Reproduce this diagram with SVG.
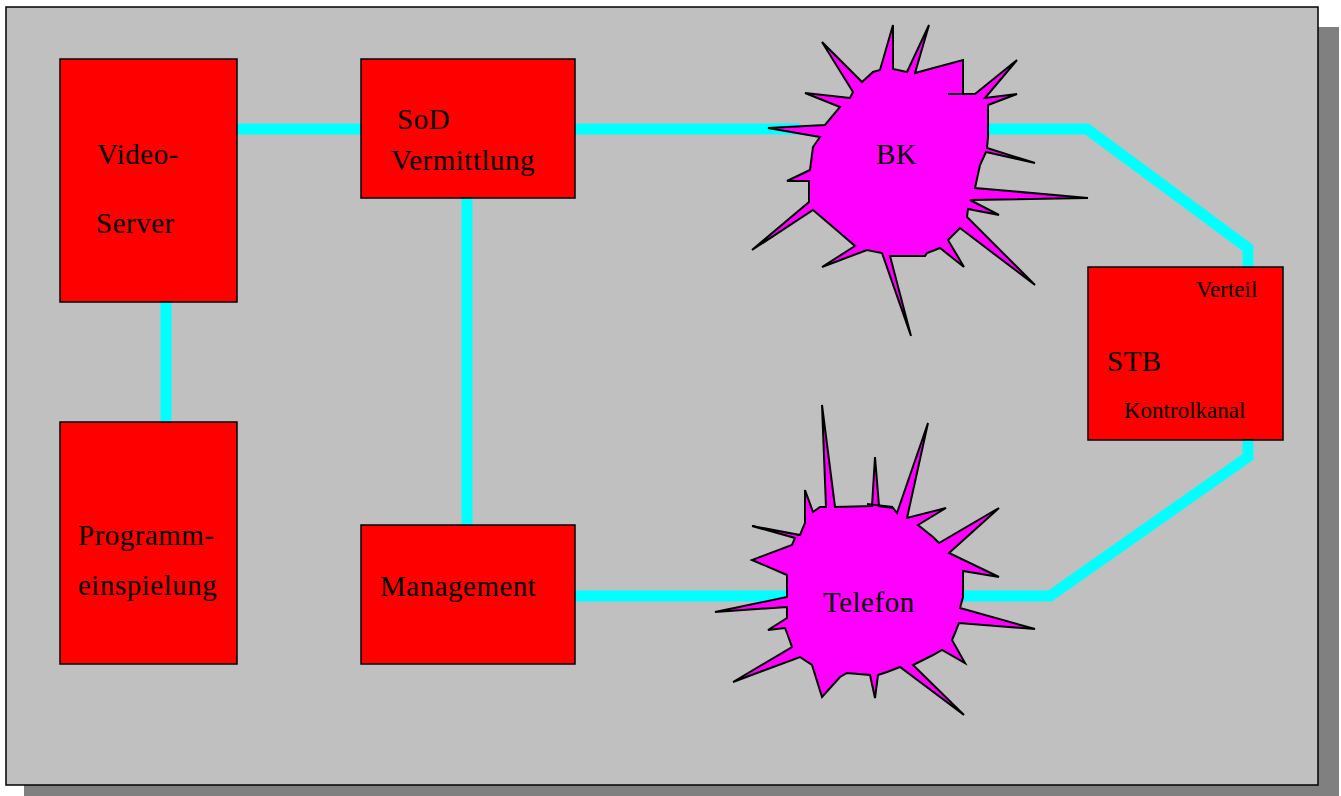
<svg xmlns="http://www.w3.org/2000/svg" width="1341" height="796" viewBox="0 0 1341 796">
<style>
.box{fill:#ff0000;stroke:#000;stroke-width:1.5}
.burst{fill:#ff00ff;stroke:#000;stroke-width:2;stroke-linejoin:miter}
.link{fill:none;stroke:#00ffff;stroke-width:11;stroke-linejoin:miter}
text{font-family:"Liberation Serif","Times New Roman",serif;fill:#000}
.big{font-size:29px;letter-spacing:0.5px}
.small{font-size:23px}
</style>
<rect x="24" y="27" width="1315" height="769" fill="#808080"/>
<rect x="6" y="7" width="1312" height="778" fill="#c0c0c0" stroke="#000" stroke-width="1.5"/>
<g id="connectors">
<line class="link" x1="237" y1="129" x2="361" y2="129"/>
<line class="link" x1="166" y1="302" x2="166" y2="422"/>
<line class="link" x1="467" y1="198" x2="467" y2="525"/>
<line class="link" x1="575" y1="129" x2="800" y2="129"/>
<polyline class="link" points="970,129 1087,129 1248,248 1248,267"/>
<polyline class="link" points="1248,440 1248,457 1050,596 950,596"/>
<line class="link" x1="575" y1="596" x2="800" y2="596"/>
</g>
<g id="video-server">
<rect class="box" x="60" y="59" width="177" height="243"/>
<text class="big" x="97" y="164">Video-</text>
<text class="big" x="96" y="233">Server</text>
</g>
<g id="sod">
<rect class="box" x="361" y="59" width="214" height="139"/>
<text class="big" x="397" y="129">SoD</text>
<text class="big" x="391" y="170">Vermittlung</text>
</g>
<g id="programm">
<rect class="box" x="60" y="422" width="177" height="242"/>
<text class="big" x="78" y="545">Programm-</text>
<text class="big" x="78" y="595">einspielung</text>
</g>
<g id="management">
<rect class="box" x="361" y="525" width="214" height="139"/>
<text class="big" x="380" y="596">Management</text>
</g>
<g id="stb">
<rect class="box" x="1088" y="267" width="195" height="173"/>
<text class="small" x="1196" y="297">Verteil</text>
<text class="big" x="1107" y="371">STB</text>
<text class="small" x="1124" y="418">Kontrolkanal</text>
</g>
<g id="bk">
<polygon class="burst" points="880,70 893,25 893,69 907,72 929,25 915,73 963,60 963,94 975,94 1017,60 985,98 1017,94 988,105 988,137 987,148 1035,163 986,152 980,165 975,188 1088,198 970,200 999,215 968,209 967,217 1035,285 960,228 948,240 964,267 940,248 927,253 925,256 890,256 911,336 882,253 867,250 822,267 855,246 833,227 813,210 752,250 809,202 809,181 787,181 810,170 813,147 820,137 768,128 825,125 840,107 805,93 850,98 853,92 822,42 862,82 873,72"/>
<line x1="948" y1="94" x2="963" y2="94" stroke="#000" stroke-width="2"/>
<text class="big" x="876" y="164">BK</text>
</g>
<g id="telefon">
<polygon class="burst" points="826,507 822,405 835,507 872,506 875,457 879,506 893,508 897,513 928,423 907,518 946,508 918,525 933,537 939,543 999,508 949,553 999,577 963,571 963,597 960,608 1035,629 959,623 955,633 952,640 965,663 942,650 933,655 913,665 964,715 900,667 887,672 878,675 875,698 870,675 847,673 840,677 822,697 812,665 800,657 733,682 792,647 787,633 785,628 768,630 787,618 787,607 715,612 787,597 787,575 752,560 792,545 795,538 752,526 800,535 805,523 805,490 813,512 820,507"/>
<line x1="867" y1="504" x2="893" y2="507" stroke="#000" stroke-width="2"/>
<text class="big" x="823" y="612">Telefon</text>
</g>
</svg>
